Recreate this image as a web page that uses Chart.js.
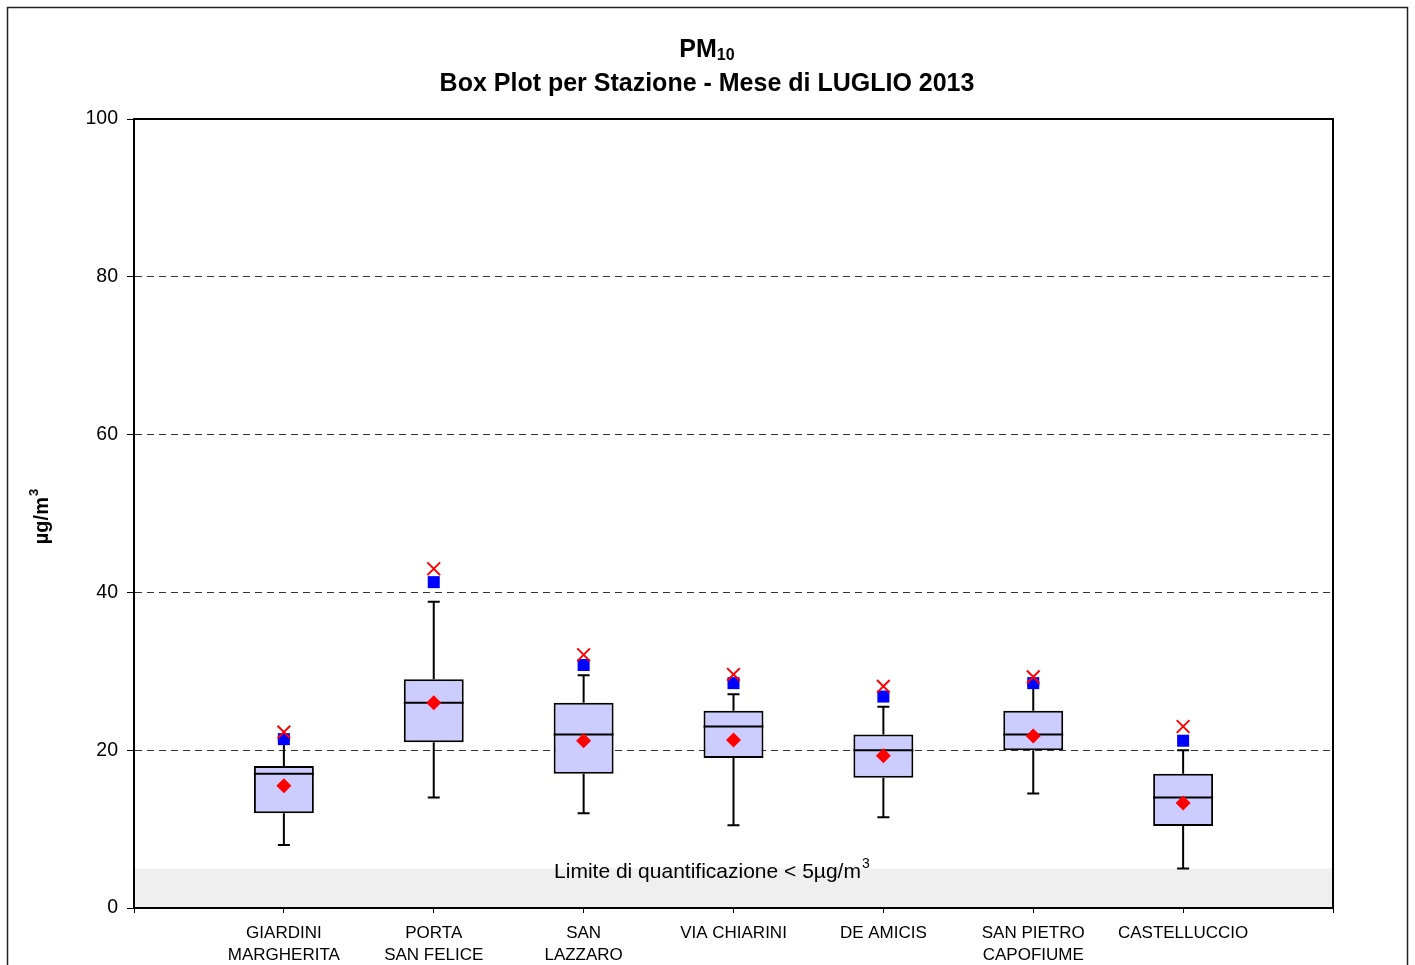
<!DOCTYPE html>
<html>
<head>
<meta charset="utf-8">
<script src="https://cdn.jsdelivr.net/npm/chart.js@4/dist/chart.umd.min.js"></script>
<style>
html, body { margin: 0; padding: 0; background: #fff; }
</style>
</head>
<body>
<canvas id="boxChart" width="1415" height="965"></canvas>
<script>
// PM10 - luglio 2013
var stations = [
    ["GIARDINI", "MARGHERITA"],
    ["PORTA", "SAN FELICE"],
    ["SAN", "LAZZARO"],
    ["VIA CHIARINI"],
    ["DE AMICIS"],
    ["SAN PIETRO", "CAPOFIUME"],
    ["CASTELLUCCIO"]
];
var whiskerMin = [8, 14, 12, 10.5, 11.5, 14.5, 5];
var q1 = [12, 21, 17, 19, 16.5, 20, 10.4];
var median = [17, 26, 22, 23, 20, 22, 14];
var q3 = [18, 29, 26, 25, 22, 25, 17];
var whiskerMax = [21.3, 38.8, 29.5, 27.1, 25.5, 28.3, 20];
var mean = [15.5, 26, 21.2, 21.3, 19.3, 21.8, 13.3];
var perc = [21.4, 41.3, 30.8, 28.5, 26.8, 28.5, 21.2];
var maxValue = [22.3, 43, 32.1, 29.6, 28.1, 29.3, 23];
var yTicks = [0, 20, 40, 60, 80, 100];
var quantLimit = 5;

var FONT = '"Liberation Sans", Arial, Helvetica, sans-serif';

function points(values) {
    return values.map(function (v, i) { return { x: i + 1, y: v }; });
}

var boxExtras = {
    id: "boxExtras",
    beforeDraw: function (chart) {
        var ctx = chart.ctx, a = chart.chartArea, y = chart.scales.y;
        ctx.save();
        ctx.fillStyle = "#fff";
        ctx.fillRect(0, 0, chart.width, chart.height);
        // fascia limite di quantificazione
        var top = y.getPixelForValue(quantLimit);
        ctx.fillStyle = "#efefef";
        ctx.fillRect(a.left, top, a.right - a.left, y.getPixelForValue(0) - top);
        ctx.restore();
    },
    afterDatasetDraw: function (chart, args) {
        if (args.meta.type !== "bar") return;
        var ctx = chart.ctx, x = chart.scales.x, y = chart.scales.y;
        ctx.save();
        ctx.strokeStyle = "#000";
        ctx.lineWidth = 2;
        args.meta.data.forEach(function (bar, i) {
            var px = x.getPixelForValue(i + 1);
            var cap = 6;
            ctx.beginPath();
            ctx.moveTo(px, y.getPixelForValue(q3[i]));
            ctx.lineTo(px, y.getPixelForValue(whiskerMax[i]));
            ctx.moveTo(px - cap, y.getPixelForValue(whiskerMax[i]));
            ctx.lineTo(px + cap, y.getPixelForValue(whiskerMax[i]));
            ctx.moveTo(px, y.getPixelForValue(q1[i]));
            ctx.lineTo(px, y.getPixelForValue(whiskerMin[i]));
            ctx.moveTo(px - cap, y.getPixelForValue(whiskerMin[i]));
            ctx.lineTo(px + cap, y.getPixelForValue(whiskerMin[i]));
            // mediana
            var my = y.getPixelForValue(median[i]);
            ctx.moveTo(bar.x - bar.width / 2, my);
            ctx.lineTo(bar.x + bar.width / 2, my);
            ctx.stroke();
        });
        ctx.restore();
    },
    afterDraw: function (chart) {
        var ctx = chart.ctx, a = chart.chartArea, x = chart.scales.x, y = chart.scales.y;
        ctx.save();
        // cornice area del grafico
        ctx.strokeStyle = "#000";
        ctx.lineWidth = 2;
        ctx.strokeRect(a.left, a.top, a.right - a.left, a.bottom - a.top);
        // cornice esterna
        ctx.strokeStyle = "#222";
        ctx.lineWidth = 1.5;
        ctx.strokeRect(7.5, 7.5, 1400, 1100);

        // titolo
        ctx.fillStyle = "#000";
        ctx.textBaseline = "alphabetic";
        ctx.font = "bold 25px " + FONT;
        var w1 = ctx.measureText("PM").width;
        ctx.font = "bold 16px " + FONT;
        var w2 = ctx.measureText("10").width;
        var cx = 707;
        var sx = cx - (w1 + w2) / 2;
        ctx.font = "bold 25px " + FONT;
        ctx.textAlign = "left";
        ctx.fillText("PM", sx, 57);
        ctx.font = "bold 16px " + FONT;
        ctx.fillText("10", sx + w1, 60);
        ctx.font = "bold 25px " + FONT;
        ctx.textAlign = "center";
        ctx.fillText("Box Plot per Stazione - Mese di LUGLIO 2013", cx, 91);

        // titolo asse y
        ctx.save();
        ctx.translate(48, 517);
        ctx.rotate(-Math.PI / 2);
        ctx.font = "bold 20px " + FONT;
        var ut = ctx.measureText("\u00b5g/m").width;
        ctx.font = "bold 13px " + FONT;
        var us = ctx.measureText("3").width;
        var ux = -(ut + us) / 2;
        ctx.textAlign = "left";
        ctx.font = "bold 20px " + FONT;
        ctx.fillText("\u00b5g/m", ux, 0);
        ctx.font = "bold 13px " + FONT;
        ctx.fillText("3", ux + ut + 1, -10);
        ctx.restore();

        // etichetta limite di quantificazione
        ctx.font = "21px " + FONT;
        ctx.textAlign = "left";
        var txt = "Limite di quantificazione < 5\u00b5g/m";
        var tw = ctx.measureText(txt).width;
        var lx = x.getPixelForValue(3.86) - tw / 2 - 5;
        var ly = y.getPixelForValue(quantLimit) + 9;
        ctx.fillText(txt, lx, ly);
        ctx.font = "14px " + FONT;
        ctx.fillText("3", lx + tw + 1, ly - 10);
        ctx.restore();
    }
};

new Chart("boxChart", {
    type: "bar",
    data: {
        datasets: [
            {
                type: "scatter",
                data: points(maxValue),
                pointStyle: "crossRot",
                radius: 9,
                borderColor: "#ff0000",
                borderWidth: 2,
                order: 1
            },
            {
                type: "scatter",
                data: points(perc),
                pointStyle: "rect",
                radius: 8.5,
                backgroundColor: "#0000ff",
                borderColor: "#0000ff",
                borderWidth: 0,
                order: 2
            },
            {
                type: "scatter",
                data: points(mean),
                pointStyle: "rectRot",
                radius: 7.5,
                backgroundColor: "#ff0000",
                borderColor: "#ff0000",
                borderWidth: 0,
                order: 0
            },
            {
                type: "bar",
                data: q1.map(function (v, i) { return { x: i + 1, y: [v, q3[i]] }; }),
                backgroundColor: "#ccccff",
                borderColor: "#000",
                borderWidth: 2,
                borderSkipped: false,
                categoryPercentage: 1,
                barPercentage: 0.4,
                order: 5
            }
        ]
    },
    options: {
        responsive: false,
        animation: false,
        events: [],
        layout: { padding: { top: 119, right: 82, left: 0, bottom: 0 } },
        plugins: {
            legend: { display: false },
            title: { display: false },
            tooltip: { enabled: false }
        },
        scales: {
            x: {
                type: "linear",
                offset: false,
                min: 0,
                max: 8,
                afterFit: function (s) { s.height = 57; },
                afterBuildTicks: function (s) {
                    s.ticks = [0, 1, 2, 3, 4, 5, 6, 7, 8].map(function (v) { return { value: v }; });
                },
                ticks: {
                    stepSize: 1,
                    autoSkip: false,
                    maxRotation: 0,
                    padding: 10,
                    color: "#000",
                    font: { family: FONT, size: 17, lineHeight: 1.25 },
                    callback: function (v) { return stations[v - 1] || ""; }
                },
                grid: {
                    offset: false,
                    drawOnChartArea: false,
                    tickLength: 5,
                    tickColor: "#000",
                    tickWidth: 1
                },
                border: { display: true, color: "#000", width: 2 }
            },
            y: {
                min: 0,
                max: 100,
                afterFit: function (s) { s.width = 134; },
                afterBuildTicks: function (s) {
                    s.ticks = yTicks.map(function (v) { return { value: v }; });
                },
                ticks: {
                    padding: 9,
                    color: "#000",
                    font: { family: FONT, size: 19.5 }
                },
                grid: {
                    color: function (c) {
                        return (c.tick && (c.tick.value === 0 || c.tick.value === 100)) ? "rgba(0,0,0,0)" : "#333";
                    },
                    lineWidth: 1,
                    tickLength: 7,
                    tickColor: "#000",
                    tickWidth: 1
                },
                border: { display: true, color: "#000", width: 2, dash: [7, 5] }
            }
        }
    },
    plugins: [boxExtras]
});
</script>
</body>
</html>
